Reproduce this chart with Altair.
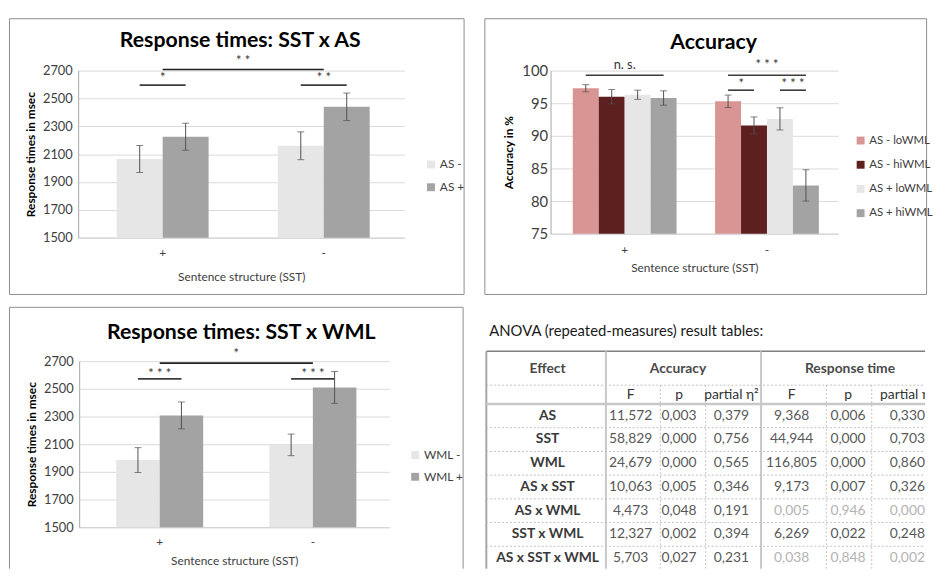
import altair as alt
import pandas as pd

FONT = "Lato"
SST = ["+", "-"]

# ---------------- Response times: SST x AS ----------------
AS_LEVELS = ["AS -", "AS +"]
AS_COLORS = ["#e6e6e6", "#a3a3a3"]
RT_AS_MINUS = [2065, 2160]
RT_AS_PLUS = [2225, 2440]
RT_AS_MINUS_ERR = [97, 100]
RT_AS_PLUS_ERR = [97, 99]
RT_AS_BRACKETS = [("+", "AS -", "AS +", 2596), ("-", "AS -", "AS +", 2596)]
RT_AS_CENTER_LABELS = [("+", "*", 2648), ("-", "* *", 2648)]
RT_AS_SPAN = (2708, "* *", 2766)

# ---------------- Accuracy ----------------
ACC_LEVELS = ["AS - loWML", "AS - hiWML", "AS + loWML", "AS + hiWML"]
ACC_COLORS = ["#d99594", "#5e1f1f", "#e6e6e6", "#a3a3a3"]
ACC_AS_MINUS_LO = [97.3, 95.3]
ACC_AS_MINUS_HI = [96.0, 91.6]
ACC_AS_PLUS_LO = [96.3, 92.6]
ACC_AS_PLUS_HI = [95.8, 82.4]
ACC_AS_MINUS_LO_ERR = [0.55, 0.95]
ACC_AS_MINUS_HI_ERR = [1.1, 1.3]
ACC_AS_PLUS_LO_ERR = [0.7, 1.7]
ACC_AS_PLUS_HI_ERR = [1.1, 2.4]
ACC_BRACKETS = [
    ("+", "AS - loWML", "AS + hiWML", 99.3),
    ("-", "AS - loWML", "AS + hiWML", 99.3),
    ("-", "AS - loWML", "AS - hiWML", 97.0),
    ("-", "AS + loWML", "AS + hiWML", 97.0),
]
ACC_CENTER_LABELS = [("+", "n. s.", 100.85), ("-", "* * *", 100.85)]
ACC_PAIR_LABELS = [("-", "AS - hiWML", "*", 98.0), ("-", "AS + hiWML", "* * *", 98.0)]

# ---------------- Response times: SST x WML ----------------
WML_LEVELS = ["WML -", "WML +"]
WML_COLORS = ["#e6e6e6", "#a3a3a3"]
RT_WML_MINUS = [1985, 2095]
RT_WML_PLUS = [2308, 2510]
RT_WML_MINUS_ERR = [90, 78]
RT_WML_PLUS_ERR = [97, 115]
RT_WML_BRACKETS = [("+", "WML -", "WML +", 2572), ("-", "WML -", "WML +", 2572)]
RT_WML_CENTER_LABELS = [("+", "* * *", 2609), ("-", "* * *", 2609)]
RT_WML_SPAN = (2686, "*", 2755)

# ---------------- ANOVA table ----------------
EFFECTS = ["AS", "SST", "WML", "AS x SST", "AS x WML", "SST x WML", "AS x SST x WML"]
ACC_F = [11.572, 58.829, 24.679, 10.063, 4.473, 12.327, 5.703]
ACC_P = [0.003, 0.000, 0.000, 0.005, 0.048, 0.002, 0.027]
ACC_ETA = [0.379, 0.756, 0.565, 0.346, 0.191, 0.394, 0.231]
RT_F = [9.368, 44.944, 116.805, 9.173, 0.005, 6.269, 0.038]
RT_P = [0.006, 0.000, 0.000, 0.007, 0.946, 0.022, 0.848]
RT_ETA = [0.330, 0.703, 0.860, 0.326, 0.000, 0.248, 0.002]

BOX = "#8c8c8c"
INK = "#404040"


def one(**kw):
    return pd.DataFrame([kw])


def hline(y, x1, x2, color, width, dash=None):
    kw = dict(color=color, strokeWidth=width)
    if dash:
        kw["strokeDash"] = dash
    return alt.Chart(one(a=0)).mark_rule(**kw).encode(
        x=alt.value(x1), x2=alt.value(x2), y=alt.value(y))


def vline(x, y1, y2, color, width, dash=None):
    kw = dict(color=color, strokeWidth=width)
    if dash:
        kw["strokeDash"] = dash
    return alt.Chart(one(a=0)).mark_rule(**kw).encode(
        x=alt.value(x), y=alt.value(y1), y2=alt.value(y2))


def bar_panel(title, levels, colors, means, errs, y_domain, y_ticks, y_title,
              brackets, center_labels, pair_labels, span, g):
    rows = []
    for lvl, ms, es in zip(levels, means, errs):
        for s, m, e in zip(SST, ms, es):
            rows.append({"sst": s, "grp": lvl, "mean": m, "lo": m - e, "hi": m + e})
    df = pd.DataFrame(rows)

    left, right = g["x_range"]
    po = ((right - left) / g["step"] - 2) / 2
    x_scale = alt.Scale(type="band", domain=SST, range=[left, right],
                        paddingInner=0, paddingOuter=po, align=1)
    xo_scale = alt.Scale(type="band", domain=levels, paddingInner=0, paddingOuter=g["xo_pad"])
    y_scale = alt.Scale(domain=y_domain, range=g["y_range"], nice=False, zero=False)

    x_axis = alt.Axis(orient="bottom", offset=-(g["h"] - g["y_range"][0]), ticks=False, grid=False,
                      domainColor="#d0d0d0", labelAngle=0, labelPadding=g["xlab_pad"],
                      labelFont=FONT, labelFontSize=12, labelColor=INK,
                      title="Sentence structure (SST)", titleFont=FONT, titleFontSize=12,
                      titleFontWeight="normal", titleColor=INK, titlePadding=g["xtitle_pad"])
    y_axis = alt.Axis(values=y_ticks, format="d", offset=-left, ticks=False, grid=True,
                      gridColor="#d9d9d9", domainColor="#a6a6a6", labelPadding=g["ylab_pad"],
                      labelFont=FONT, labelFontSize=g["ylab_size"], labelColor=INK, title=y_title,
                      titleFont=FONT, titleFontSize=12, titleFontWeight="bold",
                      titleColor="#000000", titlePadding=g["ytitle_pad"])

    def X(**kw):
        return alt.X("sst:N", scale=x_scale, axis=x_axis, sort=SST, **kw)

    XO = alt.XOffset("grp:N", scale=xo_scale, sort=levels)

    def Y(f):
        return alt.Y(f, scale=y_scale, axis=y_axis)

    layers = []
    layers.append(
        alt.Chart(df).mark_bar().encode(
            x=X(), xOffset=XO, y=Y("mean:Q"), y2=alt.datum(y_domain[0]),
            color=alt.Color("grp:N", scale=alt.Scale(domain=levels, range=colors), sort=levels,
                            legend=alt.Legend(title=None, orient="none", legendX=g["leg_x"],
                                              legendY=g["leg_y"], symbolType="square",
                                              symbolSize=64, symbolStrokeWidth=0,
                                              labelFont=FONT, labelFontSize=g["leg_size"],
                                              labelColor=INK, labelOffset=3,
                                              rowPadding=g["leg_rowpad"], padding=0)),
        )
    )
    layers.append(
        alt.Chart(df).mark_rule(color="#505050", strokeWidth=1).encode(
            x=X(), xOffset=XO, y=Y("lo:Q"), y2="hi:Q")
    )
    layers.append(
        alt.Chart(df).transform_fold(["lo", "hi"], as_=["end", "val"])
        .mark_tick(orient="horizontal", size=7, thickness=1, color="#505050")
        .encode(x=X(), xOffset=XO, y=Y("val:Q"))
    )
    br_rows = []
    for i, (s, a, b, yv) in enumerate(brackets):
        br_rows.append({"id": i, "sst": s, "grp": a, "y": yv})
        br_rows.append({"id": i, "sst": s, "grp": b, "y": yv})
    layers.append(
        alt.Chart(pd.DataFrame(br_rows)).mark_line(color="#3c3c3c", strokeWidth=1.6).encode(
            x=X(), xOffset=XO, y=Y("y:Q"), detail="id:N")
    )
    star_style = dict(font=FONT, color="#333333", baseline="middle", align="center")
    layers.append(
        alt.Chart(pd.DataFrame(center_labels, columns=["sst", "lab", "y"]))
        .mark_text(fontSize=13, **star_style)
        .encode(x=X(), y=Y("y:Q"), text="lab:N")
    )
    if pair_labels:
        layers.append(
            alt.Chart(pd.DataFrame(pair_labels, columns=["sst", "grp", "lab", "y"]))
            .mark_text(fontSize=13, dx=-g["half_bar"], **star_style)
            .encode(x=X(), xOffset=XO, y=Y("y:Q"), text="lab:N")
        )
    if span:
        yv, lab, ly = span
        layers.append(
            alt.Chart(pd.DataFrame({"sst": SST, "y": [yv, yv]}))
            .mark_line(color="#1e1e1e", strokeWidth=1.6)
            .encode(x=X(), y=Y("y:Q"))
        )
        layers.append(
            alt.Chart(pd.DataFrame({"sst": ["-"], "lab": [lab], "y": [ly]}))
            .mark_text(fontSize=13, **star_style)
            .encode(x=X(bandPosition=0), y=Y("y:Q"), text="lab:N")
        )
    layers.append(
        alt.Chart(one(t=title)).mark_text(font=FONT, fontSize=21.5, fontWeight="bold",
                                          color="#000000", align="center", baseline="middle")
        .encode(x=alt.value(g["title_x"]), y=alt.value(g["title_y"]), text="t:N")
    )
    if g.get("open_bottom"):
        w, h = g["w"], g["h"]
        layers += [hline(0.5, 0.5, w - 0.5, BOX, 1), vline(0.5, 0.5, h, BOX, 1),
                   vline(w - 0.5, 0.5, h, BOX, 1)]
        view = alt.ViewBackground(stroke="transparent")
    else:
        view = alt.ViewBackground(stroke=BOX, strokeWidth=1)
    return alt.layer(*layers).properties(width=g["w"], height=g["h"], view=view)


panel_a = bar_panel(
    "Response times: SST x AS", AS_LEVELS, AS_COLORS,
    [RT_AS_MINUS, RT_AS_PLUS], [RT_AS_MINUS_ERR, RT_AS_PLUS_ERR],
    [1500, 2700], [1500, 1700, 1900, 2100, 2300, 2500, 2700], "Response times in msec",
    RT_AS_BRACKETS, RT_AS_CENTER_LABELS, [], RT_AS_SPAN,
    dict(w=460, h=279, x_range=[70, 400], step=163, xo_pad=0.753, y_range=[222, 53],
         xlab_pad=10, xtitle_pad=13, ylab_pad=6, ylab_size=13, ytitle_pad=5,
         leg_x=421, leg_y=142, leg_rowpad=11, leg_size=12, title_x=234, title_y=23,
         half_bar=23),
)

panel_b = bar_panel(
    "Accuracy", ACC_LEVELS, ACC_COLORS,
    [ACC_AS_MINUS_LO, ACC_AS_MINUS_HI, ACC_AS_PLUS_LO, ACC_AS_PLUS_HI],
    [ACC_AS_MINUS_LO_ERR, ACC_AS_MINUS_HI_ERR, ACC_AS_PLUS_LO_ERR, ACC_AS_PLUS_HI_ERR],
    [75, 100], [75, 80, 85, 90, 95, 100], "Accuracy in %",
    ACC_BRACKETS, ACC_CENTER_LABELS, ACC_PAIR_LABELS, None,
    dict(w=447, h=279, x_range=[67, 358], step=144, xo_pad=0.743, y_range=[218, 53],
         xlab_pad=11, xtitle_pad=7, ylab_pad=3, ylab_size=15, ytitle_pad=6,
         leg_x=375, leg_y=118, leg_rowpad=11.5, leg_size=11.5, title_x=232, title_y=25,
         half_bar=13),
)

panel_c = bar_panel(
    "Response times: SST x WML", WML_LEVELS, WML_COLORS,
    [RT_WML_MINUS, RT_WML_PLUS], [RT_WML_MINUS_ERR, RT_WML_PLUS_ERR],
    [1500, 2700], [1500, 1700, 1900, 2100, 2300, 2500, 2700], "Response times in msec",
    RT_WML_BRACKETS, RT_WML_CENTER_LABELS, [], RT_WML_SPAN,
    dict(w=460, h=265, x_range=[71, 385], step=155, xo_pad=0.761, y_range=[223, 55],
         xlab_pad=10, xtitle_pad=8, ylab_pad=6, ylab_size=13, ytitle_pad=5,
         leg_x=405, leg_y=144, leg_rowpad=10, leg_size=12, title_x=235, title_y=27,
         half_bar=22, open_bottom=True),
)

# ---------------- table panel ----------------
TW, TH = 447, 265
tbl = pd.DataFrame({"effect": EFFECTS, "acc_f": ACC_F, "acc_p": ACC_P, "acc_eta": ACC_ETA,
                    "rt_f": RT_F, "rt_p": RT_P, "rt_eta": RT_ETA})
row_scale = alt.Scale(type="band", domain=EFFECTS, range=[98.3, 266.3], paddingInner=0, paddingOuter=0)


def ROW(**kw):
    return alt.Y("effect:N", scale=row_scale, axis=None, sort=EFFECTS, **kw)


def txt(t, x, y, size=14, weight="normal", color="#333333", align="center"):
    return alt.Chart(one(t=t)).mark_text(font=FONT, fontSize=size, fontWeight=weight, color=color,
                                         align=align, baseline="middle", clip=True).encode(
        x=alt.value(x), y=alt.value(y), text="t:N")


COLS = [("acc_f", "acc_p", 149), ("acc_p", "acc_p", 198), ("acc_eta", "acc_p", 251),
        ("rt_f", "rt_p", 312), ("rt_p", "rt_p", 369), ("rt_eta", "rt_p", 429)]

t_layers = [
    txt("ANOVA (repeated-measures) result tables:", 6, 25, size=15, color="#1a1a1a", align="left"),
    hline(45, 3, TW, "#808080", 1.5),
    vline(3, 45, TH, "#a6a6a6", 2),
    hline(79.3, 3, TW, "#c0c0c0", 1, [2, 2]),
    hline(98.3, 3, TW, "#c8c8c8", 2.5),
    vline(124, 45, TH, "#c8c8c8", 2),
    vline(281, 45, TH, "#c8c8c8", 2),
]
for vx in [179, 225, 347, 393]:
    t_layers.append(vline(vx, 79.3, TH, "#c0c0c0", 1, [2, 2]))
t_layers.append(
    alt.Chart(tbl).mark_rule(color="#c0c0c0", strokeWidth=1, strokeDash=[2, 2], clip=True).encode(
        y=ROW(bandPosition=1), x=alt.value(3), x2=alt.value(TW))
)
for label, x in [("Effect", 65), ("Accuracy", 197), ("Response time", 371)]:
    t_layers.append(txt(label, x, 62.7, size=14, weight="bold", color="#4a4a4a"))
for label, x in [("F", 149), ("p", 198), ("partial η²", 251), ("F", 312), ("p", 369), ("partial η²", 429)]:
    t_layers.append(txt(label, x, 89.3, size=14, color="#333333"))
t_layers.append(
    alt.Chart(tbl).mark_text(font=FONT, fontSize=14, fontWeight="bold", color="#3a3a3a",
                             baseline="middle", clip=True).encode(
        x=alt.value(65), y=ROW(), text="effect:N")
)
for col, pcol, x in COLS:
    t_layers.append(
        alt.Chart(tbl)
        .transform_calculate(txt=f"replace(format(datum.{col}, '.3f'), '.', ',')")
        .mark_text(font=FONT, fontSize=14, baseline="middle", clip=True)
        .encode(x=alt.value(x), y=ROW(), text="txt:N",
                color=alt.condition(f"datum.{pcol} > 0.05", alt.value("#b3b3b3"), alt.value("#595959")))
    )
table = alt.layer(*t_layers).properties(
    width=TW, height=TH, view=alt.ViewBackground(stroke="transparent"))

RES = dict(color="independent", xOffset="independent", x="independent", y="independent")
top = alt.hconcat(panel_a, panel_b, spacing=18).resolve_scale(**RES)
bottom = alt.hconcat(panel_c, table, spacing=18).resolve_scale(**RES)
chart = alt.vconcat(top, bottom, spacing=11).resolve_scale(**RES).properties(
    padding={"left": 0, "top": 6, "right": 0, "bottom": 0},
    background="white",
).configure(font=FONT)

chart.save("out.html", embed_options={"renderer": "svg", "actions": False})
